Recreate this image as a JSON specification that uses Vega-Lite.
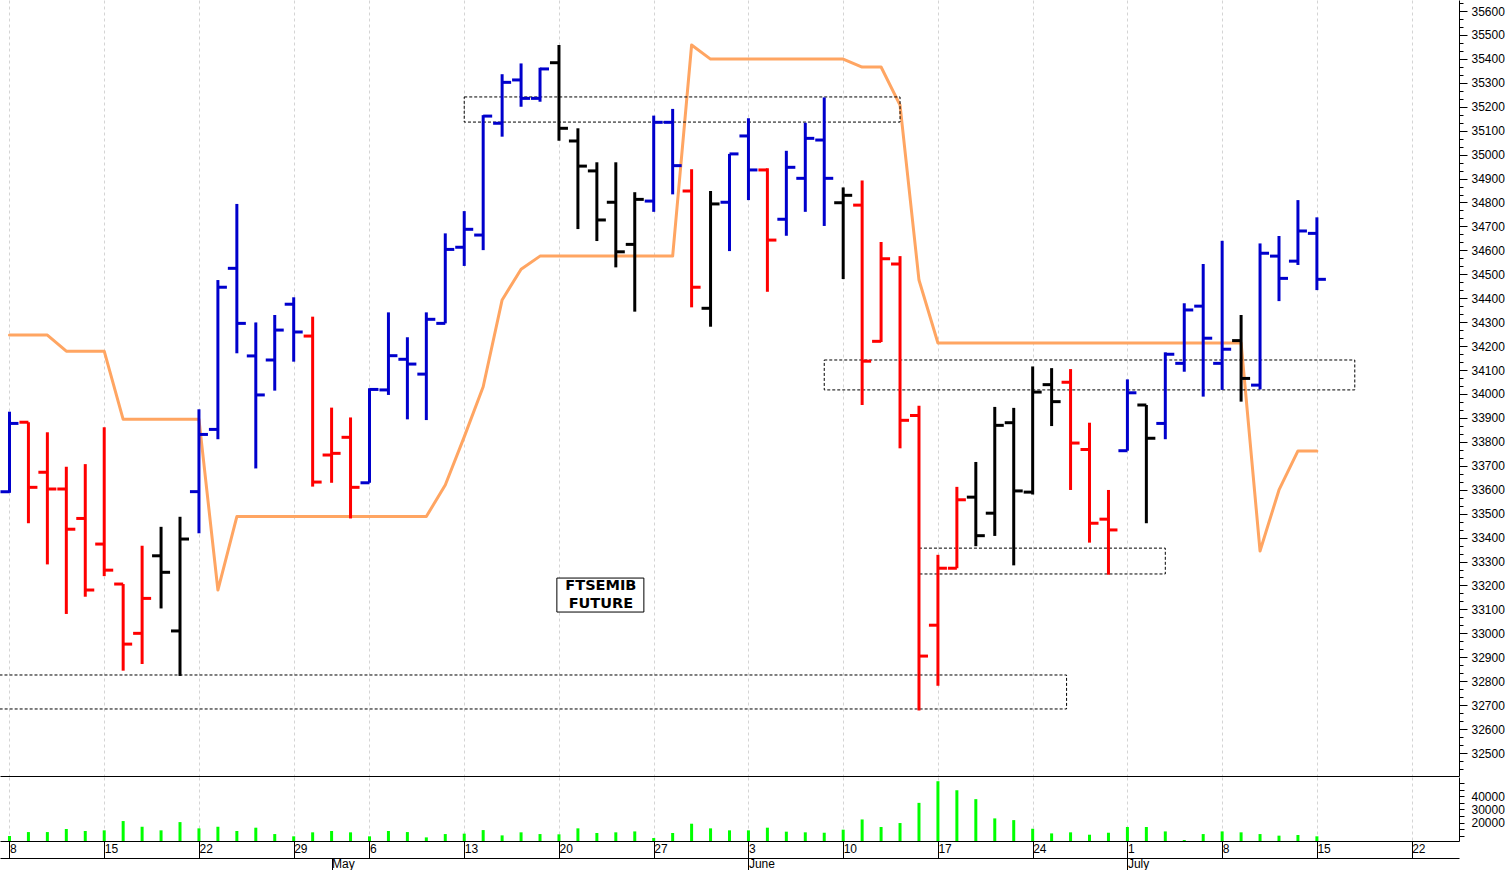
{
  "$schema": "https://vega.github.io/schema/vega-lite/v6.json",
  "padding": 0,
  "background": "white",
  "spacing": 0,
  "config": {
    "view": {"stroke": null},
    "font": "Liberation Sans",
    "axis": {"labelFont": "Liberation Sans", "labelFontSize": 12, "labelColor": "#000000", "titleFont": "Liberation Sans", "labelOverlap": false, "zindex": 0}
  },
  "datasets": {
    "px": [
      {"d":"2024-04-08","o":33592,"h":33926,"l":33587,"c":33877,"t":"up","v":10000,"s":34246},
      {"d":"2024-04-09","o":33882,"h":33882,"l":33460,"c":33610,"t":"dn","v":13000,"s":34246},
      {"d":"2024-04-10","o":33673,"h":33840,"l":33288,"c":33603,"t":"dn","v":13000,"s":34246},
      {"d":"2024-04-11","o":33603,"h":33696,"l":33081,"c":33435,"t":"dn","v":15300,"s":34179},
      {"d":"2024-04-12","o":33480,"h":33707,"l":33153,"c":33181,"t":"dn","v":13800,"s":34179},
      {"d":"2024-04-15","o":33373,"h":33861,"l":33239,"c":33264,"t":"dn","v":14300,"s":34179},
      {"d":"2024-04-16","o":33206,"h":33206,"l":32844,"c":32955,"t":"dn","v":21300,"s":33894},
      {"d":"2024-04-17","o":33000,"h":33366,"l":32872,"c":33146,"t":"dn","v":17000,"s":33894},
      {"d":"2024-04-18","o":33324,"h":33445,"l":33104,"c":33255,"t":"fl","v":14300,"s":33894},
      {"d":"2024-04-19","o":33010,"h":33487,"l":32822,"c":33394,"t":"fl","v":20500,"s":33894},
      {"d":"2024-04-22","o":33592,"h":33936,"l":33418,"c":33831,"t":"up","v":15800,"s":33894},
      {"d":"2024-04-23","o":33852,"h":34476,"l":33811,"c":34446,"t":"up","v":17000,"s":33181},
      {"d":"2024-04-24","o":34525,"h":34794,"l":34170,"c":34295,"t":"up","v":13800,"s":33488},
      {"d":"2024-04-25","o":34159,"h":34299,"l":33689,"c":33996,"t":"up","v":16300,"s":33488},
      {"d":"2024-04-26","o":34142,"h":34330,"l":34014,"c":34267,"t":"up","v":11500,"s":33488},
      {"d":"2024-04-29","o":34375,"h":34404,"l":34135,"c":34259,"t":"up","v":9800,"s":33488},
      {"d":"2024-04-30","o":34242,"h":34323,"l":33613,"c":33632,"t":"dn","v":12800,"s":33488},
      {"d":"2024-05-02","o":33745,"h":33943,"l":33629,"c":33752,"t":"dn","v":13800,"s":33488},
      {"d":"2024-05-03","o":33819,"h":33902,"l":33480,"c":33610,"t":"dn","v":12800,"s":33488},
      {"d":"2024-05-06","o":33629,"h":34024,"l":33629,"c":34019,"t":"up","v":9800,"s":33488},
      {"d":"2024-05-07","o":34017,"h":34341,"l":33996,"c":34160,"t":"up","v":13800,"s":33488},
      {"d":"2024-05-08","o":34145,"h":34237,"l":33894,"c":34125,"t":"up","v":13000,"s":33488},
      {"d":"2024-05-09","o":34083,"h":34341,"l":33891,"c":34312,"t":"up","v":9000,"s":33488},
      {"d":"2024-05-10","o":34295,"h":34671,"l":34295,"c":34604,"t":"up","v":11500,"s":33620},
      {"d":"2024-05-13","o":34613,"h":34764,"l":34535,"c":34688,"t":"up","v":11800,"s":33821},
      {"d":"2024-05-14","o":34664,"h":35165,"l":34601,"c":35161,"t":"up","v":14500,"s":34030},
      {"d":"2024-05-15","o":35131,"h":35336,"l":35075,"c":35302,"t":"up","v":10500,"s":34393},
      {"d":"2024-05-16","o":35312,"h":35381,"l":35200,"c":35235,"t":"up","v":12800,"s":34521},
      {"d":"2024-05-17","o":35235,"h":35363,"l":35221,"c":35358,"t":"up","v":11500,"s":34576},
      {"d":"2024-05-20","o":35384,"h":35458,"l":35058,"c":35110,"t":"fl","v":11300,"s":34576},
      {"d":"2024-05-21","o":35057,"h":35110,"l":34689,"c":34952,"t":"fl","v":15800,"s":34576},
      {"d":"2024-05-22","o":34932,"h":34968,"l":34639,"c":34727,"t":"fl","v":12300,"s":34576},
      {"d":"2024-05-23","o":34801,"h":34968,"l":34529,"c":34594,"t":"fl","v":12800,"s":34576},
      {"d":"2024-05-24","o":34625,"h":34843,"l":34344,"c":34813,"t":"fl","v":13500,"s":34576},
      {"d":"2024-05-27","o":34806,"h":35163,"l":34761,"c":35135,"t":"up","v":8500,"s":34576},
      {"d":"2024-05-28","o":35135,"h":35191,"l":34834,"c":34954,"t":"up","v":12300,"s":34576},
      {"d":"2024-05-29","o":34848,"h":34939,"l":34362,"c":34446,"t":"dn","v":19300,"s":35458},
      {"d":"2024-05-30","o":34358,"h":34848,"l":34281,"c":34794,"t":"fl","v":15800,"s":35399},
      {"d":"2024-05-31","o":34801,"h":35003,"l":34597,"c":35003,"t":"up","v":14300,"s":35399},
      {"d":"2024-06-03","o":35078,"h":35152,"l":34810,"c":34936,"t":"up","v":14300,"s":35399},
      {"d":"2024-06-04","o":34936,"h":34943,"l":34427,"c":34643,"t":"dn","v":16300,"s":35399},
      {"d":"2024-06-05","o":34730,"h":35016,"l":34661,"c":34947,"t":"up","v":13300,"s":35399},
      {"d":"2024-06-06","o":34901,"h":35133,"l":34761,"c":35068,"t":"up","v":12800,"s":35399},
      {"d":"2024-06-07","o":35061,"h":35239,"l":34702,"c":34901,"t":"up","v":12500,"s":35399},
      {"d":"2024-06-10","o":34799,"h":34863,"l":34480,"c":34830,"t":"fl","v":14800,"s":35399},
      {"d":"2024-06-11","o":34789,"h":34892,"l":33954,"c":34137,"t":"dn","v":22500,"s":35366},
      {"d":"2024-06-12","o":34220,"h":34635,"l":34217,"c":34565,"t":"dn","v":16800,"s":35366},
      {"d":"2024-06-13","o":34543,"h":34576,"l":33773,"c":33890,"t":"dn","v":19800,"s":35207},
      {"d":"2024-06-14","o":33910,"h":33951,"l":32678,"c":32905,"t":"dn","v":35000,"s":34476},
      {"d":"2024-06-17","o":33034,"h":33328,"l":32781,"c":33272,"t":"dn","v":51300,"s":34213},
      {"d":"2024-06-18","o":33272,"h":33612,"l":33272,"c":33558,"t":"dn","v":44500,"s":34213},
      {"d":"2024-06-19","o":33569,"h":33716,"l":33364,"c":33408,"t":"fl","v":37800,"s":34213},
      {"d":"2024-06-20","o":33502,"h":33946,"l":33407,"c":33869,"t":"fl","v":23300,"s":34213},
      {"d":"2024-06-21","o":33880,"h":33942,"l":33284,"c":33595,"t":"fl","v":22000,"s":34213},
      {"d":"2024-06-24","o":33590,"h":34115,"l":33580,"c":34008,"t":"fl","v":15500,"s":34213},
      {"d":"2024-06-25","o":34039,"h":34108,"l":33866,"c":33968,"t":"fl","v":12000,"s":34213},
      {"d":"2024-06-26","o":34049,"h":34104,"l":33599,"c":33795,"t":"dn","v":12800,"s":34213},
      {"d":"2024-06-27","o":33768,"h":33880,"l":33379,"c":33460,"t":"dn","v":11000,"s":34213},
      {"d":"2024-06-28","o":33477,"h":33599,"l":33245,"c":33432,"t":"dn","v":12500,"s":34213},
      {"d":"2024-07-01","o":33763,"h":34061,"l":33763,"c":34005,"t":"up","v":16800,"s":34213},
      {"d":"2024-07-02","o":33954,"h":33954,"l":33460,"c":33815,"t":"fl","v":16800,"s":34213},
      {"d":"2024-07-03","o":33877,"h":34174,"l":33811,"c":34166,"t":"up","v":13500,"s":34213},
      {"d":"2024-07-04","o":34128,"h":34379,"l":34093,"c":34351,"t":"up","v":7000,"s":34213},
      {"d":"2024-07-05","o":34367,"h":34543,"l":33989,"c":34233,"t":"up","v":11500,"s":34213},
      {"d":"2024-07-08","o":34128,"h":34640,"l":34017,"c":34187,"t":"up","v":13500,"s":34213},
      {"d":"2024-07-09","o":34223,"h":34330,"l":33968,"c":34065,"t":"fl","v":12800,"s":34213},
      {"d":"2024-07-10","o":34037,"h":34629,"l":34019,"c":34588,"t":"up","v":11500,"s":33344},
      {"d":"2024-07-11","o":34576,"h":34660,"l":34388,"c":34483,"t":"up","v":10300,"s":33599},
      {"d":"2024-07-12","o":34555,"h":34810,"l":34539,"c":34681,"t":"up","v":10800,"s":33762},
      {"d":"2024-07-15","o":34671,"h":34738,"l":34434,"c":34479,"t":"up","v":9800,"s":33762}
    ],
    "boxes": [
      {"d":"2024-05-13","d2":"2024-06-13","y1":35241,"y2":35136},
      {"d":"2024-06-07","d2":"2024-07-17","y1":34142,"y2":34017},
      {"d":"2024-06-14","d2":"2024-07-03","y1":33356,"y2":33248}
    ],
    "box4": [
      {"d":"2024-04-08","d2":"2024-06-26","y1":32826,"y2":32684}
    ],
    "note": [
      {"d":"2024-05-22","y1":33231,"y2":33089,"ym":33198,"label":"FTSEMIB\nFUTURE"}
    ]
  },
  "vconcat": [
    {
      "width": 1459,
      "height": 776,
      "data": {"name": "px"},
      "encoding": {
        "x": {
          "field": "d", "type": "ordinal", "title": null,
          "scale": {"type": "point", "padding": 0.5, "domain": ["2024-04-08","2024-04-09","2024-04-10","2024-04-11","2024-04-12","2024-04-15","2024-04-16","2024-04-17","2024-04-18","2024-04-19","2024-04-22","2024-04-23","2024-04-24","2024-04-25","2024-04-26","2024-04-29","2024-04-30","2024-05-02","2024-05-03","2024-05-06","2024-05-07","2024-05-08","2024-05-09","2024-05-10","2024-05-13","2024-05-14","2024-05-15","2024-05-16","2024-05-17","2024-05-20","2024-05-21","2024-05-22","2024-05-23","2024-05-24","2024-05-27","2024-05-28","2024-05-29","2024-05-30","2024-05-31","2024-06-03","2024-06-04","2024-06-05","2024-06-06","2024-06-07","2024-06-10","2024-06-11","2024-06-12","2024-06-13","2024-06-14","2024-06-17","2024-06-18","2024-06-19","2024-06-20","2024-06-21","2024-06-24","2024-06-25","2024-06-26","2024-06-27","2024-06-28","2024-07-01","2024-07-02","2024-07-03","2024-07-04","2024-07-05","2024-07-08","2024-07-09","2024-07-10","2024-07-11","2024-07-12","2024-07-15","2024-07-16","2024-07-17","2024-07-18","2024-07-19","2024-07-22","2024-07-23","2024-07-24"]},
          "axis": {
            "orient": "bottom", "zindex": 0,
            "values": ["2024-04-08","2024-04-15","2024-04-22","2024-04-29","2024-05-06","2024-05-13","2024-05-20","2024-05-27","2024-06-03","2024-06-10","2024-06-17","2024-06-24","2024-07-01","2024-07-08","2024-07-15","2024-07-22"],
            "labels": false, "ticks": false, "domain": true, "domainColor": "#000000", "domainWidth": 1,
            "grid": true, "gridColor": "#d4d4d4", "gridDash": [3, 3], "gridWidth": 1, "title": null
          }
        }
      },
      "resolve": {"axis": {"y": "independent"}},
      "layer": [
        {
          "mark": {"type": "line", "color": "#FFA562", "strokeWidth": 3, "strokeJoin": "round", "strokeCap": "round"},
          "encoding": {
            "y": {
              "field": "s", "type": "quantitative", "title": null,
              "scale": {"domain": [32404, 35646], "zero": false, "nice": false},
              "axis": {
                "orient": "right", "title": null, "grid": false, "zindex": 0,
                "values": [32500,32600,32700,32800,32900,33000,33100,33200,33300,33400,33500,33600,33700,33800,33900,34000,34100,34200,34300,34400,34500,34600,34700,34800,34900,35000,35100,35200,35300,35400,35500,35600],
                "format": "d",
                "labelOverlap": false, "labelBound": false, "labelFlush": false,
                "tickSize": 8, "tickColor": "#000000", "domainColor": "#000000", "labelPadding": 4, "labelFontSize": 12
              }
            }
          }
        },
        {
          "data": {"name": "boxes"},
          "mark": {"type": "rect", "fill": null, "stroke": "#000000", "strokeWidth": 1, "strokeDash": [3, 2]},
          "encoding": {
            "x2": {"field": "d2"},
            "y": {
              "field": "y1", "type": "quantitative", "title": null,
              "scale": {"domain": [32404, 35646], "zero": false, "nice": false},
              "axis": {
                "orient": "right", "title": null, "grid": false, "zindex": 0, "labels": false, "domain": false,
                "values": [32433.33,32466.67,32533.33,32566.67,32633.33,32666.67,32733.33,32766.67,32833.33,32866.67,32933.33,32966.67,33033.33,33066.67,33133.33,33166.67,33233.33,33266.67,33333.33,33366.67,33433.33,33466.67,33533.33,33566.67,33633.33,33666.67,33733.33,33766.67,33833.33,33866.67,33933.33,33966.67,34033.33,34066.67,34133.33,34166.67,34233.33,34266.67,34333.33,34366.67,34433.33,34466.67,34533.33,34566.67,34633.33,34666.67,34733.33,34766.67,34833.33,34866.67,34933.33,34966.67,35033.33,35066.67,35133.33,35166.67,35233.33,35266.67,35333.33,35366.67,35433.33,35466.67,35533.33,35566.67,35633.33],
                "tickSize": 4, "tickColor": "#000000"
              }
            },
            "y2": {"field": "y2"}
          }
        },
        {
          "data": {"name": "box4"},
          "mark": {"type": "rect", "fill": null, "stroke": "#000000", "strokeWidth": 1, "strokeDash": [3, 2], "xOffset": -10, "x2Offset": -4, "clip": true},
          "encoding": {
            "x2": {"field": "d2"},
            "y": {"field": "y1", "type": "quantitative", "title": null, "axis": null, "scale": {"domain": [32404, 35646], "zero": false, "nice": false}},
            "y2": {"field": "y2"}
          }
        },
        {
          "mark": {"type": "rule", "strokeWidth": 3, "opacity": 1},
          "encoding": {
            "y": {"field": "l", "type": "quantitative", "title": null, "axis": null, "scale": {"domain": [32404, 35646], "zero": false, "nice": false}},
            "y2": {"field": "h"},
            "color": {"field": "t", "type": "nominal", "scale": {"domain": ["up", "dn", "fl"], "range": ["#0000CC", "#FF0000", "#000000"]}, "legend": null}
          }
        },
        {
          "mark": {"type": "tick", "thickness": 3, "size": 9, "xOffset": -4.5, "opacity": 1},
          "encoding": {
            "y": {"field": "o", "type": "quantitative", "title": null, "axis": null, "scale": {"domain": [32404, 35646], "zero": false, "nice": false}},
            "color": {"field": "t", "type": "nominal", "scale": {"domain": ["up", "dn", "fl"], "range": ["#0000CC", "#FF0000", "#000000"]}, "legend": null}
          }
        },
        {
          "mark": {"type": "tick", "thickness": 3, "size": 9, "xOffset": 4.5, "opacity": 1},
          "encoding": {
            "y": {"field": "c", "type": "quantitative", "title": null, "axis": null, "scale": {"domain": [32404, 35646], "zero": false, "nice": false}},
            "color": {"field": "t", "type": "nominal", "scale": {"domain": ["up", "dn", "fl"], "range": ["#0000CC", "#FF0000", "#000000"]}, "legend": null}
          }
        },
        {
          "data": {"name": "note"},
          "mark": {"type": "rect", "fill": "#ffffff", "stroke": "#000000", "strokeWidth": 1, "xOffset": -40, "x2Offset": 47},
          "encoding": {
            "x2": {"field": "d"},
            "y": {"field": "y1", "type": "quantitative", "title": null, "axis": null, "scale": {"domain": [32404, 35646], "zero": false, "nice": false}},
            "y2": {"field": "y2"}
          }
        },
        {
          "data": {"name": "note"},
          "mark": {"type": "text", "font": "DejaVu Sans", "fontWeight": "bold", "fontSize": 14.5, "lineBreak": "\n", "lineHeight": 18, "baseline": "middle", "align": "center", "dx": 4, "color": "#000000"},
          "encoding": {
            "y": {"field": "ym", "type": "quantitative", "title": null, "axis": null, "scale": {"domain": [32404, 35646], "zero": false, "nice": false}},
            "text": {"field": "label"}
          }
        }
      ]
    },
    {
      "width": 1459,
      "height": 64,
      "data": {"name": "px"},
      "layer": [
        {
          "mark": {"type": "bar", "color": "#00FF00", "size": 3, "clip": true, "opacity": 1},
          "encoding": {
            "x": {
              "field": "d", "type": "ordinal", "title": null,
              "scale": {"type": "point", "padding": 0.5, "domain": ["2024-04-08","2024-04-09","2024-04-10","2024-04-11","2024-04-12","2024-04-15","2024-04-16","2024-04-17","2024-04-18","2024-04-19","2024-04-22","2024-04-23","2024-04-24","2024-04-25","2024-04-26","2024-04-29","2024-04-30","2024-05-02","2024-05-03","2024-05-06","2024-05-07","2024-05-08","2024-05-09","2024-05-10","2024-05-13","2024-05-14","2024-05-15","2024-05-16","2024-05-17","2024-05-20","2024-05-21","2024-05-22","2024-05-23","2024-05-24","2024-05-27","2024-05-28","2024-05-29","2024-05-30","2024-05-31","2024-06-03","2024-06-04","2024-06-05","2024-06-06","2024-06-07","2024-06-10","2024-06-11","2024-06-12","2024-06-13","2024-06-14","2024-06-17","2024-06-18","2024-06-19","2024-06-20","2024-06-21","2024-06-24","2024-06-25","2024-06-26","2024-06-27","2024-06-28","2024-07-01","2024-07-02","2024-07-03","2024-07-04","2024-07-05","2024-07-08","2024-07-09","2024-07-10","2024-07-11","2024-07-12","2024-07-15","2024-07-16","2024-07-17","2024-07-18","2024-07-19","2024-07-22","2024-07-23","2024-07-24"]},
              "axis": {
                "orient": "bottom", "title": null, "labelAngle": 0, "zindex": 0,
                "values": ["2024-04-08","2024-04-15","2024-04-22","2024-04-29","2024-05-06","2024-05-13","2024-05-20","2024-05-27","2024-06-03","2024-06-10","2024-06-17","2024-06-24","2024-07-01","2024-07-08","2024-07-15","2024-07-22"],
                "labelExpr": "'' + toNumber(slice(datum.value, 8))",
                "tickSize": 17, "tickColor": "#000000", "domainColor": "#000000",
                "labelPadding": -15, "labelAlign": "left", "labelBaseline": "top", "labelDx": 3,
                "labelOverlap": false, "labelBound": false, "labelFlush": false, "labelFontSize": 12,
                "grid": true, "gridColor": "#d4d4d4", "gridDash": [3, 3], "gridWidth": 1
              }
            },
            "y": {
              "field": "v", "type": "quantitative", "title": null,
              "scale": {"domain": [6270, 54480], "zero": false, "nice": false},
              "axis": {
                "orient": "right", "title": null, "grid": false,
                "values": [10000, 15000, 20000, 25000, 30000, 35000, 40000, 45000, 50000],
                "labelExpr": "(datum.value == 20000 || datum.value == 30000 || datum.value == 40000) ? format(datum.value, 'd') : ''",
                "labelOverlap": false, "labelBound": false, "labelFlush": false,
                "tickSize": 5, "tickColor": "#000000", "domainColor": "#000000", "labelPadding": 7, "labelFontSize": 12
              }
            }
          }
        },
        {
          "mark": {"type": "point", "opacity": 0},
          "encoding": {
            "x": {
              "field": "d", "type": "ordinal", "title": null,
              "scale": {"type": "point", "padding": 0.5, "domain": ["2024-04-08","2024-04-09","2024-04-10","2024-04-11","2024-04-12","2024-04-15","2024-04-16","2024-04-17","2024-04-18","2024-04-19","2024-04-22","2024-04-23","2024-04-24","2024-04-25","2024-04-26","2024-04-29","2024-04-30","2024-05-02","2024-05-03","2024-05-06","2024-05-07","2024-05-08","2024-05-09","2024-05-10","2024-05-13","2024-05-14","2024-05-15","2024-05-16","2024-05-17","2024-05-20","2024-05-21","2024-05-22","2024-05-23","2024-05-24","2024-05-27","2024-05-28","2024-05-29","2024-05-30","2024-05-31","2024-06-03","2024-06-04","2024-06-05","2024-06-06","2024-06-07","2024-06-10","2024-06-11","2024-06-12","2024-06-13","2024-06-14","2024-06-17","2024-06-18","2024-06-19","2024-06-20","2024-06-21","2024-06-24","2024-06-25","2024-06-26","2024-06-27","2024-06-28","2024-07-01","2024-07-02","2024-07-03","2024-07-04","2024-07-05","2024-07-08","2024-07-09","2024-07-10","2024-07-11","2024-07-12","2024-07-15","2024-07-16","2024-07-17","2024-07-18","2024-07-19","2024-07-22","2024-07-23","2024-07-24"]},
              "axis": {
                "orient": "bottom", "title": null, "labelAngle": 0, "offset": 17,
                "values": ["2024-05-02", "2024-06-03", "2024-07-01"],
                "labelExpr": "datum.value == '2024-05-02' ? 'May' : (datum.value == '2024-06-03' ? 'June' : 'July')",
                "tickSize": 13, "tickColor": "#000000", "domainColor": "#000000",
                "labelPadding": -13, "labelAlign": "left", "labelBaseline": "top", "labelDx": 2,
                "labelOverlap": false, "labelBound": false, "labelFlush": false, "labelFontSize": 12,
                "grid": false
              }
            }
          }
        }
      ],
      "resolve": {"axis": {"x": "independent"}}
    }
  ]
}
